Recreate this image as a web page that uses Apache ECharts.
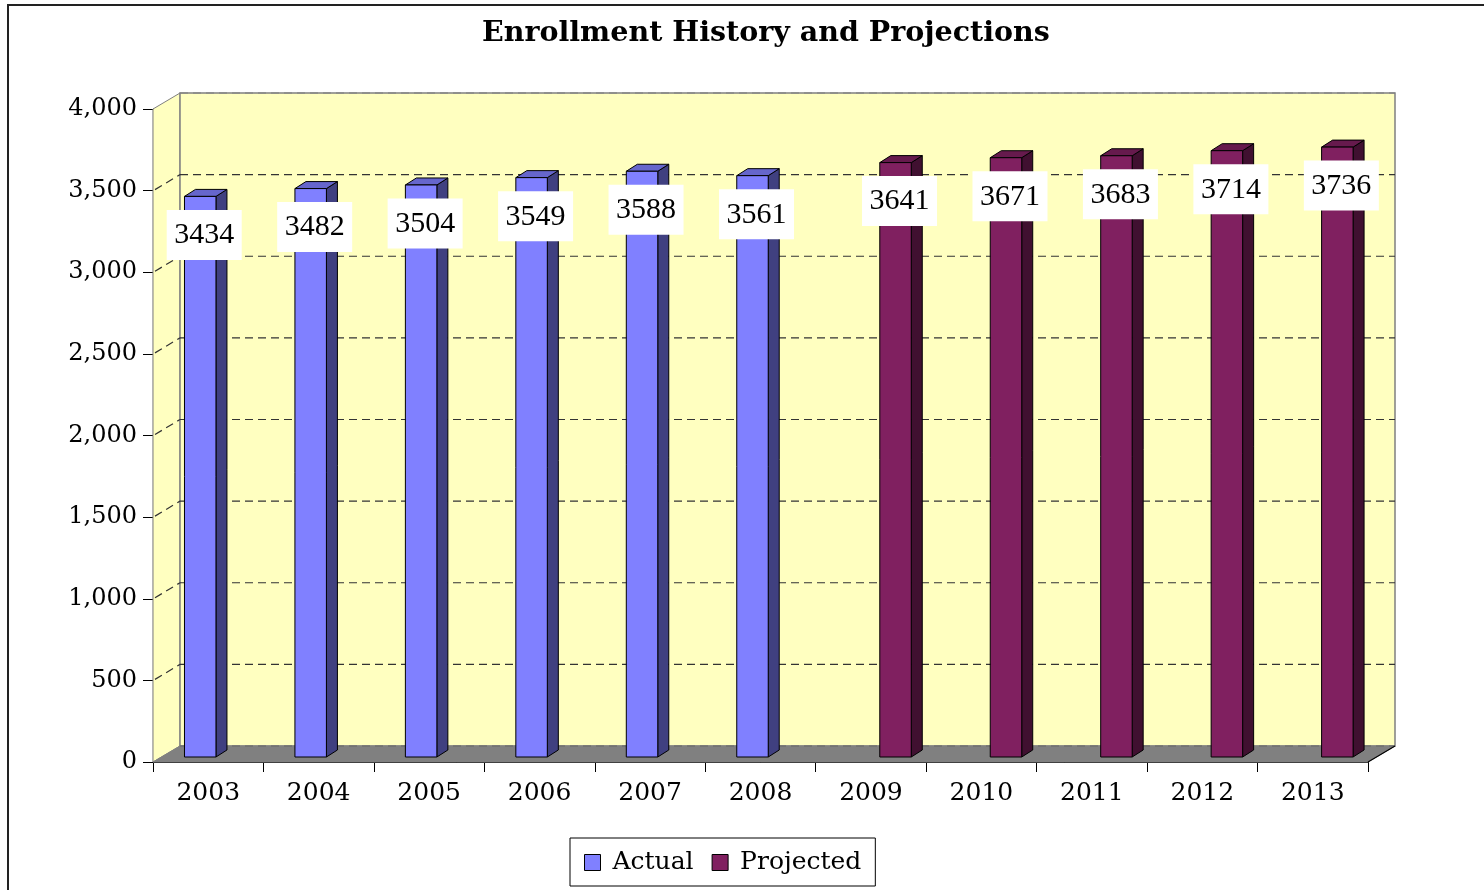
<!DOCTYPE html>
<html>
<head>
<meta charset="utf-8">
<script src="https://cdn.jsdelivr.net/npm/echarts@6/dist/echarts.min.js"></script>
<style>
html,body{margin:0;padding:0;background:#fff;}
#chart{width:1484px;height:890px;}
</style>
</head>
<body>
<div id="chart"></div>
<script>
// ---- data ----
const titleText = 'Enrollment History and Projections';
const years = ['2003','2004','2005','2006','2007','2008','2009','2010','2011','2012','2013'];
const actual = [3434, 3482, 3504, 3549, 3588, 3561, null, null, null, null, null];
const projected = [null, null, null, null, null, null, 3641, 3671, 3683, 3714, 3736];
const yTicks = [0, 500, 1000, 1500, 2000, 2500, 3000, 3500, 4000];
const seriesNames = ['Actual', 'Projected'];

// ---- styles ----
const WALL_DX = 27, WALL_DY = -16;
const BAR_DX = 11, BAR_DY = -7, BAR_LIFT = 5;
const colors = {
  Actual: {front: '#8080FF', top: '#6666CC', side: '#404080'},
  Projected: {front: '#802060', top: '#661A4D', side: '#401030'}
};
const slotOffset = {Actual: 0.285, Projected: 0.58};
const slotWidth = 0.285;

function toPairs(arr) {
  const out = [];
  arr.forEach((v, i) => { if (v !== null) out.push([i, v]); });
  return out;
}

function wallRender(params, api) {
  const cs = params.coordSys;
  const x0 = cs.x, x1 = cs.x + cs.width;
  const yTop = api.coord([0, yTicks[yTicks.length - 1]])[1];
  const yBot = api.coord([0, 0])[1];
  const children = [];
  children.push({type: 'polygon', shape: {points: [[x0, yTop], [x0 + WALL_DX, yTop + WALL_DY], [x0 + WALL_DX, yBot + WALL_DY], [x0, yBot]]},
    style: {fill: '#FFFFC0', stroke: '#808080', lineWidth: 1}});
  children.push({type: 'rect', shape: {x: x0 + WALL_DX, y: yTop + WALL_DY, width: x1 - x0, height: yBot - yTop},
    style: {fill: '#FFFFC0', stroke: '#808080', lineWidth: 1.5}});
  children.push({type: 'polygon', shape: {points: [[x0, yBot], [x0 + WALL_DX, yBot + WALL_DY], [x1 + WALL_DX, yBot + WALL_DY], [x1, yBot]]},
    style: {fill: '#808080', stroke: '#808080', lineWidth: 1}});
  yTicks.forEach(v => {
    const y = api.coord([0, v])[1];
    if (v > 0) {
      children.push({type: 'line', shape: {x1: x0 + WALL_DX, y1: y + WALL_DY, x2: x1 + WALL_DX, y2: y + WALL_DY},
        style: {stroke: v === yTicks[yTicks.length - 1] ? '#808080' : '#333', lineWidth: 1.2, lineDash: [8, 5]}});
      if (v < yTicks[yTicks.length - 1]) {
        children.push({type: 'line', shape: {x1: x0 + 2, y1: y - 1, x2: x0 + WALL_DX, y2: y + WALL_DY},
          style: {stroke: '#333', lineWidth: 1.2, lineDash: [8, 5]}});
      }
    } else {
      children.push({type: 'line', shape: {x1: x0 + WALL_DX, y1: y + WALL_DY, x2: x1 + WALL_DX, y2: y + WALL_DY},
        style: {stroke: '#666', lineWidth: 1, lineDash: [8, 5]}});
    }
  });
  children.push({type: 'line', shape: {x1: x1, y1: yBot, x2: x1 + WALL_DX, y2: yBot + WALL_DY}, style: {stroke: '#000', lineWidth: 1.2}});
  return {type: 'group', children};
}

function makeBarRender(name) {
  const col = colors[name];
  return function (params, api) {
    const i = api.value(0), v = api.value(1);
    const c = api.coord([i, v]);
    const b = api.coord([i, 0]);
    const bw = api.size([1, 0])[0];
    const left = c[0] - bw / 2 + bw * slotOffset[name];
    const w = bw * slotWidth;
    const top = c[1] - BAR_LIFT;
    const bottom = b[1] - BAR_LIFT;
    const cx = left + w / 2 + 4;
    return {type: 'group', children: [
      {type: 'polygon', shape: {points: [[left + w, top], [left + w + BAR_DX, top + BAR_DY], [left + w + BAR_DX, bottom + BAR_DY], [left + w, bottom]]},
        style: {fill: col.side, stroke: '#000', lineWidth: 1}},
      {type: 'polygon', shape: {points: [[left, top], [left + BAR_DX, top + BAR_DY], [left + w + BAR_DX, top + BAR_DY], [left + w, top]]},
        style: {fill: col.top, stroke: '#000', lineWidth: 1}},
      {type: 'rect', shape: {x: left, y: top, width: w, height: bottom - top},
        style: {fill: col.front, stroke: '#000', lineWidth: 1}},
      {type: 'rect', shape: {x: cx - 37.5, y: top + 13.5, width: 75, height: 50},
        style: {fill: '#FFFFFF'}, z2: 10},
      {type: 'text', z2: 11, style: {text: String(v), x: cx, y: top + 39, align: 'center', verticalAlign: 'middle',
        fontSize: 30, fontFamily: 'Liberation Serif', fill: '#000'}}
    ]};
  };
}

const chart = echarts.init(document.getElementById('chart'), null, {renderer: 'canvas'});
const option = {
  backgroundColor: '#fff',
  animation: false,
  title: {
    text: titleText, left: 477, top: 14,
    textStyle: {fontFamily: 'DejaVu Serif', fontWeight: 'bold', fontSize: 28.5, color: '#000'}
  },
  legend: {
    data: seriesNames, left: 570, top: 838,
    orient: 'horizontal', icon: 'rect', itemWidth: 16, itemHeight: 16, itemGap: 18,
    padding: [12, 14, 11, 14], borderColor: '#000', borderWidth: 1,
    itemStyle: {borderColor: '#000', borderWidth: 1},
    textStyle: {fontFamily: 'DejaVu Serif', fontSize: 25, color: '#000', padding: [0, 0, 0, 7]}
  },
  grid: {left: 153, right: 116, top: 109, bottom: 128, containLabel: false},
  xAxis: {
    type: 'category', data: years, boundaryGap: true,
    axisLine: {show: true, lineStyle: {color: '#000', width: 1.2}},
    axisTick: {show: true, length: 10, alignWithLabel: false, lineStyle: {color: '#000'}},
    axisLabel: {margin: 19, color: '#000', fontFamily: 'DejaVu Serif', fontSize: 25, interval: 0},
    splitLine: {show: false}
  },
  yAxis: {
    type: 'value', min: 0, max: 4000, interval: 500,
    axisLine: {show: true, lineStyle: {color: '#000', width: 1.2}},
    axisTick: {show: true, length: 10, lineStyle: {color: '#000'}},
    axisLabel: {margin: 16, color: '#000', fontFamily: 'DejaVu Serif', fontSize: 24, padding: [0, 0, 12, 0],
      formatter: v => String(v).replace(/\B(?=(\d{3})+(?!\d))/g, ',')},
    splitLine: {show: false}
  },
  graphic: [{type: 'rect', shape: {x: 8, y: 5, width: 1500, height: 900}, style: {fill: 'none', stroke: '#222', lineWidth: 2}, z: 100, silent: true}],
  series: [
    {type: 'custom', name: '_walls', data: [[0, 0]], renderItem: wallRender, silent: true, z: 1, encode: {x: 0, y: 1}},
    {type: 'custom', name: 'Actual', data: toPairs(actual), renderItem: makeBarRender('Actual'), z: 2,
      itemStyle: {color: colors.Actual.front}, encode: {x: 0, y: 1}},
    {type: 'custom', name: 'Projected', data: toPairs(projected), renderItem: makeBarRender('Projected'), z: 2,
      itemStyle: {color: colors.Projected.front}, encode: {x: 0, y: 1}}
  ]
};
chart.setOption(option);
</script>
</body>
</html>
